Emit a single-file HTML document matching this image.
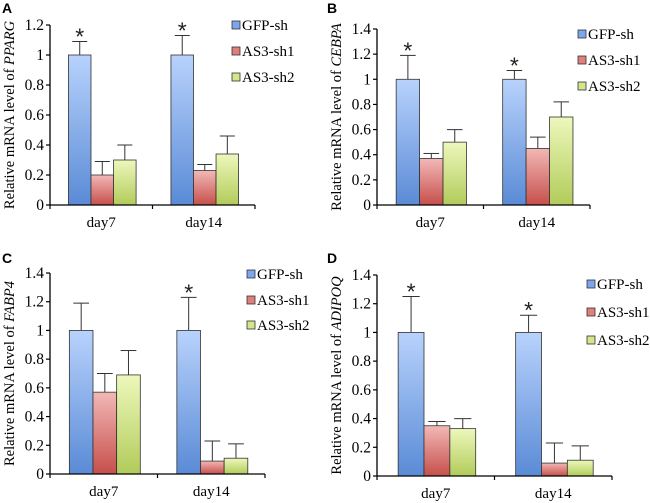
<!DOCTYPE html>
<html><head><meta charset="utf-8"><style>
html,body{margin:0;padding:0;background:#fff;}
svg{display:block;font-family:"Liberation Serif",serif;}
.pl{font-family:"Liberation Sans",sans-serif;font-weight:bold;font-size:14px;}
</style></head><body>
<svg id="fig" width="650" height="503" viewBox="0 0 650 503">
<defs>
<linearGradient id="gB" x1="0" y1="0" x2="0" y2="1"><stop offset="0" stop-color="#b8d2fc"/><stop offset="1" stop-color="#5a8bd6"/></linearGradient>
<linearGradient id="gR" x1="0" y1="0" x2="0" y2="1"><stop offset="0" stop-color="#f2b8b6"/><stop offset="1" stop-color="#c64f4b"/></linearGradient>
<linearGradient id="gG" x1="0" y1="0" x2="0" y2="1"><stop offset="0" stop-color="#edf8bc"/><stop offset="1" stop-color="#b2cb5a"/></linearGradient>
</defs>
</svg>
<script>
const categories = ["day7","day14"];
const seriesNames = ["GFP-sh","AS3-sh1","AS3-sh2"];
const genes = ["PPARG","CEBPA","FABP4","ADIPOQ"];
const gfpA = [1,1], gfpErrA = [0.09,0.13], sh1A = [0.2,0.23], sh1ErrA = [0.09,0.04], sh2A = [0.3,0.34], sh2ErrA = [0.1,0.12], starsA = [true,true];
const gfpB = [1,1], gfpErrB = [0.19,0.07], sh1B = [0.37,0.45], sh1ErrB = [0.04,0.09], sh2B = [0.5,0.7], sh2ErrB = [0.1,0.12], starsB = [true,true];
const gfpC = [1,1], gfpErrC = [0.19,0.23], sh1C = [0.57,0.09], sh1ErrC = [0.13,0.14], sh2C = [0.69,0.11], sh2ErrC = [0.17,0.10], starsC = [false,true];
const gfpD = [1,1], gfpErrD = [0.25,0.12], sh1D = [0.35,0.09], sh1ErrD = [0.03,0.14], sh2D = [0.33,0.11], sh2ErrD = [0.07,0.10], starsD = [true,true];
const ticksA = ["0","0.2","0.4","0.6","0.8","1","1.2"];
const ticks14 = ["0","0.2","0.4","0.6","0.8","1","1.2","1.4"];

const NS="http://www.w3.org/2000/svg";
const svg=document.getElementById('fig');
const fills=["url(#gB)","url(#gR)","url(#gG)"];
const sq=["#7ea6ec","#e07f7c","#d3e68a"];
function mk(tag,attrs,parent){const e=document.createElementNS(NS,tag);for(const k in attrs)e.setAttribute(k,attrs[k]);(parent||svg).appendChild(e);return e;}

const panels=[
 {label:"A",lx:2,ly:13,ax:50,y0:205,ytop:25,ymax:1.2,xend:255,ticks:ticksA,gene:genes[0],tx:14,vals:[gfpA,sh1A,sh2A],errs:[gfpErrA,sh1ErrA,sh2ErrA],stars:starsA,legX:232,legY:[25,51,77]},
 {label:"B",lx:327,ly:13,ax:377,y0:205,ytop:29,ymax:1.4,xend:590,ticks:ticks14,gene:genes[1],tx:341,vals:[gfpB,sh1B,sh2B],errs:[gfpErrB,sh1ErrB,sh2ErrB],stars:starsB,legX:578,legY:[34,60,86]},
 {label:"C",lx:2,ly:263,ax:50,y0:474,ytop:273,ymax:1.4,xend:265,ticks:ticks14,gene:genes[2],tx:14,vals:[gfpC,sh1C,sh2C],errs:[gfpErrC,sh1ErrC,sh2ErrC],stars:starsC,legX:247,legY:[274,300,325]},
 {label:"D",lx:327,ly:263,ax:377,y0:476,ytop:275,ymax:1.4,xend:612,ticks:ticks14,gene:genes[3],tx:341,vals:[gfpD,sh1D,sh2D],errs:[gfpErrD,sh1ErrD,sh2ErrD],stars:starsD,legX:587,legY:[284,312,340]}
];

panels.forEach(p=>{
 const g=mk('g',{});
 
 
 const y=v=>p.y0-(v/p.ymax)*(p.y0-p.ytop);
 const catW=(p.xend-p.ax)/categories.length;
 const bw=catW*0.22, off=catW*0.18;
 const x=(ci,si)=>p.ax+ci*catW+off+si*bw;
 const t=mk('text',{x:p.lx,y:p.ly,class:'pl'},g);t.textContent=p.label;
 
 for(let si=0;si<3;si++)for(let ci=0;ci<categories.length;ci++){
  const v=p.vals[si][ci],e=p.errs[si][ci],bx=x(ci,si),cx=bx+bw/2;
  const ln=mk('line',{x1:cx,x2:cx,y1:y(v),y2:y(v+e),stroke:'#333','stroke-width':1},g);
  
  const cap=mk('line',{x1:cx-bw/3,x2:cx+bw/3,y1:y(v+e),y2:y(v+e),stroke:'#333','stroke-width':1},g);
  
  const r=mk('rect',{x:bx,y:y(v),width:bw,height:p.y0-y(v),fill:fills[si],stroke:'#333','stroke-width':0.8},g);
  
  
  if(si===0&&p.stars[ci]){
   const s=mk('text',{x:cx,y:y(v+e)+3,'text-anchor':'middle','font-size':'23','font-family':'Liberation Sans, sans-serif',fill:'#222'},g);
   s.textContent='*';
  }
 }
 const ya=mk('line',{x1:p.ax,x2:p.ax,y1:p.ytop,y2:p.y0,stroke:'#000','stroke-width':1.3},g);
 
 const xa=mk('line',{x1:p.ax,x2:p.xend,y1:p.y0,y2:p.y0,stroke:'#000','stroke-width':1.3},g);
 
 p.ticks.forEach(tl=>{
  const ty=y(parseFloat(tl));
  const tk=mk('line',{x1:p.ax-4,x2:p.ax,y1:ty,y2:ty,stroke:'#000','stroke-width':1.2},g);
  
  const tt=mk('text',{x:p.ax-6,y:ty+5,'text-anchor':'end','font-size':'15.5'},g);
  tt.textContent=tl;
 });
 for(let ci=0;ci<=categories.length;ci++){
  const tx=p.ax+ci*catW;
  const tk=mk('line',{x1:tx,x2:tx,y1:p.y0,y2:p.y0+4,stroke:'#000','stroke-width':1.2},g);
  
 }
 categories.forEach((c,ci)=>{
  const tt=mk('text',{x:p.ax+(ci+0.5)*catW,y:p.y0+22,'text-anchor':'middle','font-size':'15'},g);
  tt.textContent=c;
 });
 const cy=(p.y0+p.ytop)/2;
 const yt=mk('text',{x:p.tx,y:cy,'text-anchor':'middle','font-size':'14.5',transform:`rotate(-90 ${p.tx} ${cy})`},g);
 
 yt.appendChild(document.createTextNode('Relative mRNA level of '));
 const it=mk('tspan',{'font-style':'italic'},yt);it.textContent=p.gene;
 seriesNames.forEach((n,si)=>{
  const ly=p.legY[si];
  const r=mk('rect',{x:p.legX,y:ly-4,width:8,height:8,fill:sq[si],stroke:'#333','stroke-width':0.8},g);
  
  const lt=mk('text',{x:p.legX+10,y:ly+5,'font-size':'15'},g);
  lt.textContent=n;
 });
});
</script>
</body></html>
